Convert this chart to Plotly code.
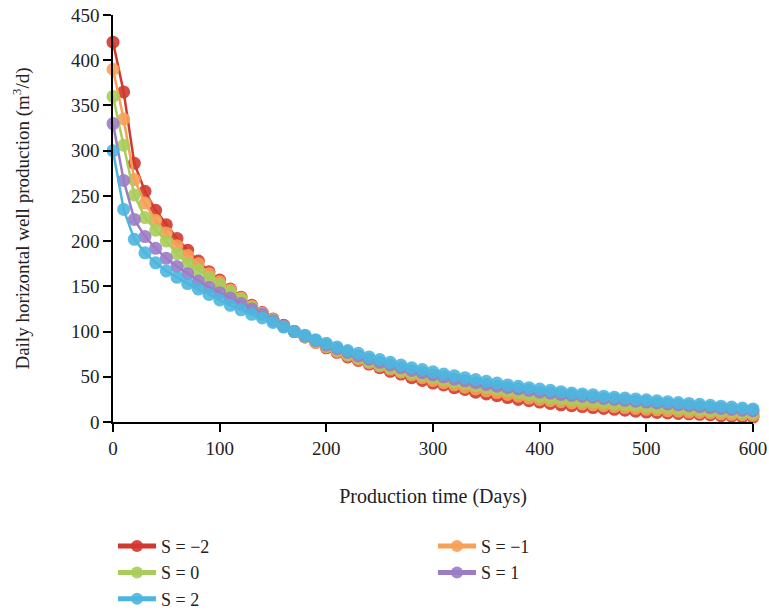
import plotly.graph_objects as go

days = list(range(0, 601, 10))

s_m2 = [420, 365, 286, 255, 234, 218, 203, 190, 178, 166, 157, 147, 138, 129, 121, 114, 107, 100, 94, 88, 82,
        77, 72, 68, 64, 60, 56, 53, 49, 46, 43, 41, 38, 36, 33, 31, 29, 27, 25, 23.5, 22,
        20.5, 19, 18, 17, 16, 15, 14, 13, 12, 11, 10.5, 10, 9.5, 9, 8.5, 8, 7, 6.5, 6, 5.5]
s_m1 = [390, 335, 268, 242, 223, 209, 195, 184, 175, 164, 155, 146, 137, 128, 120, 113, 106, 100, 94, 88, 83,
        78, 73.5, 69.5, 65.5, 62, 58.5, 55, 52, 49, 46, 43.5, 41, 38.5, 36.5, 34.5, 32.5, 30.5, 28.5, 26.5, 25,
        23.5, 22.5, 21, 20, 19, 18, 17, 16, 15, 14, 13.5, 12.5, 12, 11, 10.5, 10, 9, 8.5, 8, 7.5]
s_0 = [360, 306, 251, 226, 212, 200, 186, 175, 168, 160, 152, 144, 136, 127, 120, 113, 106, 100, 94, 89, 84,
       79.5, 75, 71, 67, 63.5, 60, 57, 54, 51.5, 49, 46.5, 44, 42, 40, 38, 36, 34, 32, 30, 28,
       26.5, 25.5, 24, 23, 22, 21, 20, 19, 18, 17, 16, 15.5, 14.5, 14, 13, 12.5, 11.5, 11, 10, 9.5]
s_1 = [330, 267, 224, 205, 192, 181, 172, 164, 156, 149, 143, 137, 131, 125, 119, 112, 106, 100, 95, 90, 85,
       81, 77, 73, 69.5, 66, 63, 60, 57, 54.5, 52, 50, 47.5, 45.5, 43.5, 41.5, 39.5, 38, 36.5, 35, 33,
       32, 30.5, 29.5, 28.5, 27.5, 26, 25, 24, 23, 22, 21, 20, 19, 18, 17, 16, 15, 14, 13, 12.5]
s_2 = [300, 235, 202, 187, 176, 167, 160, 153, 147, 141, 135, 129, 124, 119, 115, 110, 105, 100, 96, 91, 87,
       83, 79, 76, 72, 69, 66, 63, 60, 58, 55.5, 53, 51, 49, 47, 45, 43, 41, 39.5, 38, 36.5,
       35, 33.5, 32, 31, 30, 28.5, 27.5, 26.5, 25.5, 24.5, 23.5, 22.5, 21.5, 20.5, 19.5, 18.5, 17.5, 16.5, 15.5, 14.5]

names = ["S = \u22122", "S = \u22121", "S = 0", "S = 1", "S = 2"]
series = [s_m2, s_m1, s_0, s_1, s_2]
colors = ["#d2392e", "#f7a057", "#a9cc5b", "#9b7cc6", "#4cb6de"]

FONT = "Liberation Serif"

fig = go.Figure()
for name, vals, col in zip(names, series, colors):
    fig.add_trace(go.Scatter(
        x=days, y=vals, name=name, mode="lines+markers",
        line=dict(color=col, width=2.5),
        marker=dict(color=col, size=13, opacity=0.9),
        cliponaxis=False,
    ))

fig.update_layout(
    width=769, height=611,
    margin=dict(l=113, r=16, t=15, b=189, autoexpand=False),
    paper_bgcolor="white", plot_bgcolor="white",
    font=dict(family=FONT, size=18, color="#222"),
    showlegend=True,
    legend=dict(orientation="h", x=0, xanchor="left", y=-0.26, yanchor="top",
                entrywidth=0.5, entrywidthmode="fraction", itemsizing="constant",
                itemwidth=38,
                font=dict(family=FONT, size=18, color="#222")),
)
fig.update_xaxes(
    range=[0, 600], tickvals=[0, 100, 200, 300, 400, 500, 600],
    showgrid=False, zeroline=False, showline=True, linecolor="black", linewidth=1.5,
    ticks="outside", ticklen=8, tickwidth=2, tickcolor="black",
    tickfont=dict(family=FONT, size=19, color="#222"),
    title=dict(text="Production time (Days)", font=dict(family=FONT, size=20, color="#222"), standoff=31),
)
fig.update_yaxes(
    range=[0, 450], tickvals=[0, 50, 100, 150, 200, 250, 300, 350, 400, 450],
    showgrid=False, zeroline=False, showline=True, linecolor="black", linewidth=1.5,
    ticks="outside", ticklen=8, tickwidth=2, tickcolor="black",
    tickfont=dict(family=FONT, size=19, color="#222"),
    title=dict(text="Daily horizontal well production (m<sup>3</sup>/d)",
               font=dict(family=FONT, size=19, color="#222"), standoff=36),
)

fig.write_html("out.html")
